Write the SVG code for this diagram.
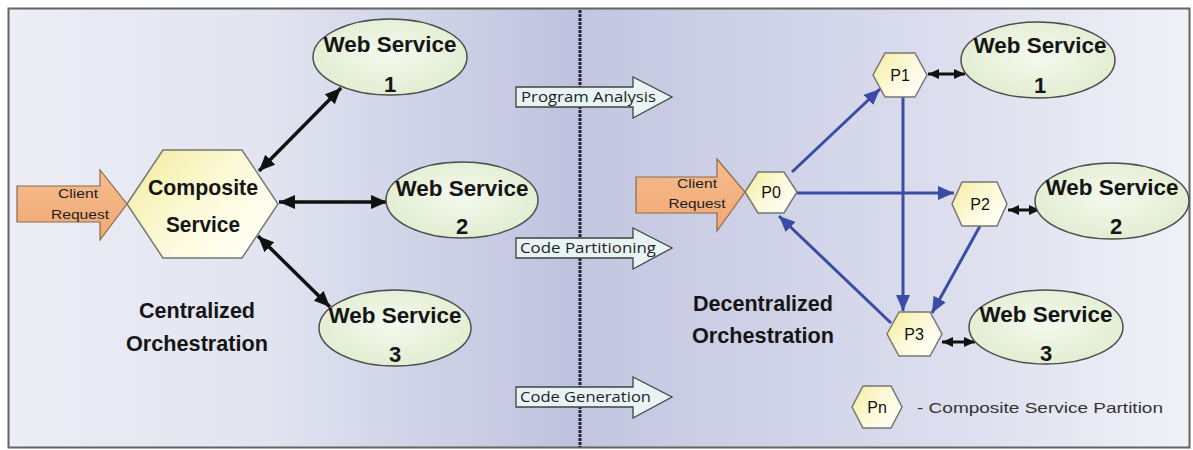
<svg xmlns="http://www.w3.org/2000/svg" width="1193" height="450" viewBox="0 0 1193 450">
<defs>
<linearGradient id="bgL" x1="0" y1="0" x2="1" y2="0">
<stop offset="0" stop-color="#ecedf5"/><stop offset="0.45" stop-color="#e2e4f0"/><stop offset="1" stop-color="#bec2de"/>
</linearGradient>
<linearGradient id="bgR" x1="0" y1="0" x2="1" y2="0">
<stop offset="0" stop-color="#c2c6e0"/><stop offset="0.6" stop-color="#dcdeee"/><stop offset="1" stop-color="#f0f1f7"/>
</linearGradient>
<linearGradient id="hexG" x1="0" y1="0" x2="1" y2="0.7">
<stop offset="0" stop-color="#f2ec9a"/><stop offset="0.55" stop-color="#fcf9d8"/><stop offset="1" stop-color="#fffff6"/>
</linearGradient>
<radialGradient id="ellG" cx="0.5" cy="0.45" r="0.6">
<stop offset="0" stop-color="#f5f9ef"/><stop offset="1" stop-color="#e0ecce"/>
</radialGradient>
<linearGradient id="cliG" x1="0" y1="0" x2="0" y2="1">
<stop offset="0" stop-color="#f6bc8e"/><stop offset="1" stop-color="#f0a874"/>
</linearGradient>
<marker id="bk" viewBox="0 0 16 14" refX="16" refY="7" markerWidth="16" markerHeight="14" markerUnits="userSpaceOnUse" orient="auto-start-reverse"><path d="M0,0 L16,7 L0,14 z" fill="#111"/></marker>
<marker id="bks" viewBox="0 0 11 10" refX="11" refY="5" markerWidth="11" markerHeight="10" markerUnits="userSpaceOnUse" orient="auto-start-reverse"><path d="M0,0 L11,5 L0,10 z" fill="#111"/></marker>
<marker id="bl" viewBox="0 0 16 14" refX="16" refY="7" markerWidth="16" markerHeight="14" markerUnits="userSpaceOnUse" orient="auto"><path d="M0,0 L16,7 L0,14 z" fill="#3a4ca4"/></marker>
</defs>
<style>
.hex{fill:url(#hexG);stroke:#767676;stroke-width:1.5}
.ell{fill:url(#ellG);stroke:#4e4e4e;stroke-width:1.5}
.cli{fill:url(#cliG);stroke:#8a6a4a;stroke-width:1.2}
.proc{fill:#e8f4f4;stroke:#3c4444;stroke-width:1.3}
.big{font-family:"Liberation Sans",Arial,sans-serif;font-weight:bold;font-size:22px;fill:#151515;text-anchor:middle}
.pl{font-family:"Liberation Sans",Arial,sans-serif;font-size:16px;fill:#111;text-anchor:middle}
.sm{font-family:"Liberation Sans",Arial,sans-serif;font-size:13px;fill:#1e1e1e;text-anchor:middle}
.pt{font-family:"Open Sans","Liberation Sans",sans-serif;font-size:14px;fill:#1e1e1e}
.lg{font-family:"Liberation Sans",Arial,sans-serif;font-size:15px;fill:#333}
.ca{fill:none;stroke:#111;stroke-width:3.5}
.cs{fill:none;stroke:#111;stroke-width:3}
.ba{fill:none;stroke:#3a4ca4;stroke-width:3}
</style>
<rect x="0" y="0" width="1193" height="450" fill="#ffffff"/>
<rect x="9" y="9" width="571" height="438" fill="url(#bgL)"/>
<rect x="580" y="9" width="610" height="438" fill="url(#bgR)"/>
<rect x="8.5" y="8.5" width="1181" height="439" fill="none" stroke="#646464" stroke-width="2"/>
<line x1="580" y1="10" x2="580" y2="447" stroke="#23232e" stroke-width="3" stroke-dasharray="3 1"/>

<g id="process-arrows">
<g id="program-analysis"><polygon class="proc" points="516,87 633,87 633,77 672,97 633,118 633,107 516,107"/><text class="pt" x="521" y="102" textLength="135" lengthAdjust="spacingAndGlyphs">Program Analysis</text></g>
<g id="code-partitioning"><polygon class="proc" points="516,238 633,238 633,228 672,248 633,269 633,258 516,258"/><text class="pt" x="520" y="253" textLength="136" lengthAdjust="spacingAndGlyphs">Code Partitioning</text></g>
<g id="code-generation"><polygon class="proc" points="516,387 633,387 633,377 672,397 633,418 633,407 516,407"/><text class="pt" x="520" y="402" textLength="131" lengthAdjust="spacingAndGlyphs">Code Generation</text></g>
</g>

<g id="connectors">
<line class="ca" x1="259" y1="171" x2="341" y2="88" marker-start="url(#bk)" marker-end="url(#bk)"/>
<line class="ca" x1="279" y1="202" x2="387" y2="202" marker-start="url(#bk)" marker-end="url(#bk)"/>
<line class="ca" x1="258" y1="236" x2="330" y2="307" marker-start="url(#bk)" marker-end="url(#bk)"/>
<line class="ba" x1="792" y1="172" x2="880" y2="89" marker-end="url(#bl)"/>
<line class="ba" x1="797" y1="193" x2="954" y2="193" marker-end="url(#bl)"/>
<line class="ba" x1="903" y1="97" x2="903" y2="311" marker-end="url(#bl)"/>
<line class="ba" x1="980" y1="226" x2="932" y2="313" marker-end="url(#bl)"/>
<line class="ba" x1="891" y1="323" x2="779" y2="216" marker-end="url(#bl)"/>
<line class="cs" x1="928" y1="74" x2="965" y2="74" marker-start="url(#bks)" marker-end="url(#bks)"/>
<line class="cs" x1="1008" y1="210" x2="1040" y2="210" marker-start="url(#bks)" marker-end="url(#bks)"/>
<line class="cs" x1="942" y1="342" x2="975" y2="342" marker-start="url(#bks)" marker-end="url(#bks)"/>
</g>

<g id="client-left"><polygon class="cli" points="17,186 100,186 100,170 127,204 100,240 100,222 17,222"/><text class="sm" x="78" y="198" textLength="40" lengthAdjust="spacingAndGlyphs">Client</text><text class="sm" x="80" y="219" textLength="58" lengthAdjust="spacingAndGlyphs">Request</text></g>
<g id="composite"><polygon class="hex" points="127,204 163,150 242,150 278,204 242,258 163,258"/><text class="big" x="203" y="195" textLength="110" lengthAdjust="spacingAndGlyphs">Composite</text><text class="big" x="203" y="232" textLength="74" lengthAdjust="spacingAndGlyphs">Service</text></g>
<g id="ws1-left"><ellipse class="ell" cx="390" cy="57" rx="77" ry="38"/><text class="big" x="390" y="52" textLength="133" lengthAdjust="spacingAndGlyphs">Web Service</text><text class="big" x="390" y="92">1</text></g>
<g id="ws2-left"><ellipse class="ell" cx="462" cy="200" rx="76" ry="38"/><text class="big" x="462" y="196" textLength="133" lengthAdjust="spacingAndGlyphs">Web Service</text><text class="big" x="462" y="234">2</text></g>
<g id="ws3-left"><ellipse class="ell" cx="395" cy="328" rx="76" ry="38"/><text class="big" x="395" y="323" textLength="133" lengthAdjust="spacingAndGlyphs">Web Service</text><text class="big" x="395" y="362">3</text></g>
<g id="label-central"><text class="big" x="197" y="318" textLength="116" lengthAdjust="spacingAndGlyphs">Centralized</text><text class="big" x="197" y="351" textLength="142" lengthAdjust="spacingAndGlyphs">Orchestration</text></g>

<g id="client-right"><polygon class="cli" points="636,177 717,177 717,159 745,192 717,231 717,213 636,213"/><text class="sm" x="697" y="188" textLength="40" lengthAdjust="spacingAndGlyphs">Client</text><text class="sm" x="697" y="208" textLength="57" lengthAdjust="spacingAndGlyphs">Request</text></g>
<g id="p0"><polygon class="hex" points="745,192 758,172 784,172 797,192 784,213 758,213"/><text class="pl" x="771" y="198">P0</text></g>
<g id="p1"><polygon class="hex" points="873,75 885,53 915,53 927,75 915,97 885,97"/><text class="pl" x="900" y="81">P1</text></g>
<g id="p2"><polygon class="hex" points="952,204 962,182 997,182 1007,204 997,226 962,226"/><text class="pl" x="980" y="210">P2</text></g>
<g id="p3"><polygon class="hex" points="887,334 899,312 930,312 942,334 930,356 899,356"/><text class="pl" x="914" y="340">P3</text></g>
<g id="ws1-right"><ellipse class="ell" cx="1038" cy="60" rx="77" ry="38"/><text class="big" x="1040" y="53" textLength="133" lengthAdjust="spacingAndGlyphs">Web Service</text><text class="big" x="1040" y="93">1</text></g>
<g id="ws2-right"><ellipse class="ell" cx="1112" cy="201" rx="77" ry="38"/><text class="big" x="1112" y="195" textLength="133" lengthAdjust="spacingAndGlyphs">Web Service</text><text class="big" x="1116" y="234">2</text></g>
<g id="ws3-right"><ellipse class="ell" cx="1046" cy="327" rx="77" ry="37"/><text class="big" x="1046" y="322" textLength="133" lengthAdjust="spacingAndGlyphs">Web Service</text><text class="big" x="1046" y="361">3</text></g>
<g id="label-decentral"><text class="big" x="763" y="311" textLength="140" lengthAdjust="spacingAndGlyphs">Decentralized</text><text class="big" x="763" y="343" textLength="142" lengthAdjust="spacingAndGlyphs">Orchestration</text></g>
<g id="legend"><polygon class="hex" points="852,407 863,386 891,386 902,407 891,428 863,428"/><text class="pl" x="877" y="413">Pn</text><text class="lg" x="917" y="413" textLength="246" lengthAdjust="spacingAndGlyphs">- Composite Service Partition</text></g>
</svg>
